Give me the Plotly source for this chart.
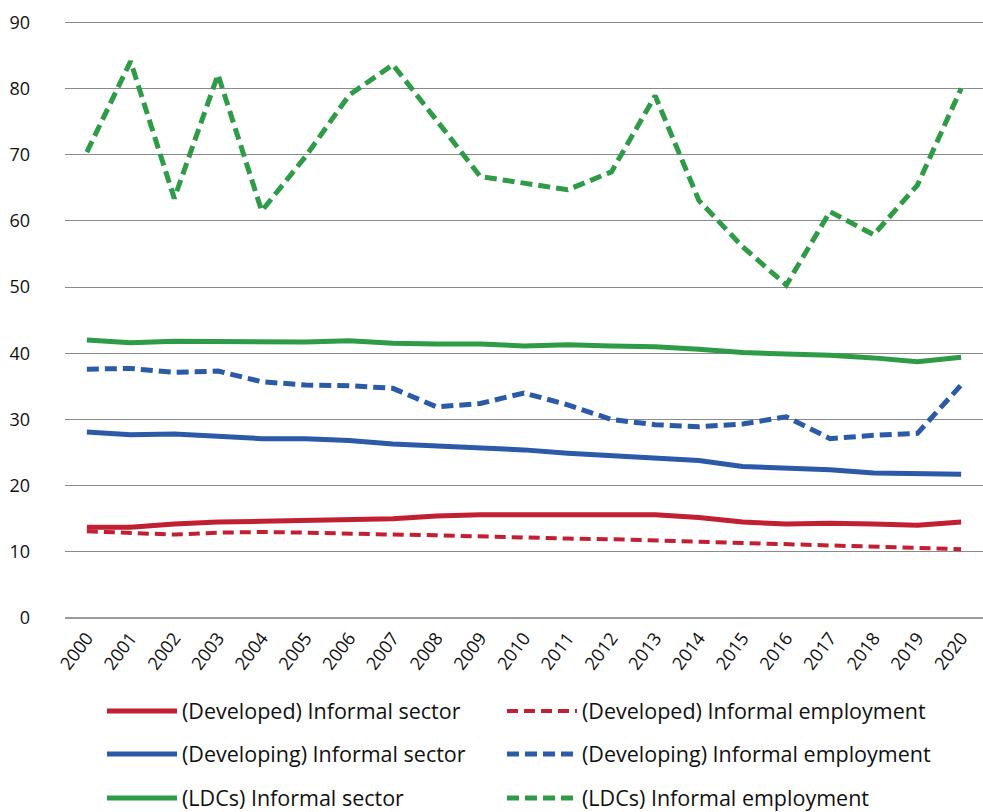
import plotly.graph_objects as go

years = [str(y) for y in range(2000, 2021)]

developed_sector = [13.7, 13.7, 14.2, 14.5, 14.6, 14.7, 14.8, 15.0, 15.4, 15.6, 15.6,
                    15.6, 15.5, 15.6, 15.2, 14.5, 14.2, 14.3, 14.2, 14.0, 14.5]
developed_employment = [13.1, 12.8, 12.6, 12.9, 13.0, 12.9, 12.7, 12.6, 12.5, 12.3, 12.2,
                        12.0, 11.9, 11.7, 11.6, 11.3, 11.1, 10.9, 10.8, 10.5, 10.4]
developing_sector = [28.1, 27.7, 27.8, 27.5, 27.1, 27.1, 26.8, 26.3, 26.0, 25.6, 25.4,
                     24.9, 24.5, 24.1, 23.8, 22.9, 22.6, 22.4, 21.9, 21.8, 21.7]
developing_employment = [37.6, 37.7, 37.1, 37.3, 35.7, 35.2, 35.1, 34.7, 31.9, 32.4, 34.0,
                         32.2, 30.0, 29.2, 28.9, 29.3, 30.4, 27.1, 27.6, 27.9, 35.2]
ldc_sector = [42.0, 41.6, 41.8, 41.8, 41.8, 41.7, 41.9, 41.5, 41.4, 41.4, 41.1,
              41.3, 41.1, 41.0, 40.6, 40.1, 39.9, 39.7, 39.3, 38.7, 39.4]
ldc_employment = [70.4, 84.1, 63.4, 82.1, 61.5, 69.7, 79.0, 83.6, 75.2, 66.7, 65.7,
                  64.7, 67.4, 78.9, 63.1, 56.1, 50.3, 61.4, 57.9, 65.4, 80.0]

names = ["(Developed) Informal sector", "(Developed) Informal employment",
         "(Developing) Informal sector", "(Developing) Informal employment",
         "(LDCs) Informal sector", "(LDCs) Informal employment"]
y_ticks = [0, 10, 20, 30, 40, 50, 60, 70, 80, 90]

RED, BLUE, GREEN = "#C21F32", "#2A5AA8", "#2E9B47"
FONT = "Open Sans"

series = [
    (developed_sector, RED, "solid", 5),
    (developed_employment, RED, "11px,6px", 4),
    (developing_sector, BLUE, "solid", 5),
    (developing_employment, BLUE, "12px,6px", 5),
    (ldc_sector, GREEN, "solid", 5),
    (ldc_employment, GREEN, "12px,6px", 5),
]

fig = go.Figure()
legend_ids = ["legend", "legend2", "legend3", "legend4", "legend5", "legend6"]
for i, (vals, col, dash, w) in enumerate(series):
    fig.add_trace(go.Scatter(
        x=years, y=vals, mode="lines", name=names[i],
        line=dict(color=col, dash=dash, width=w),
        legend=legend_ids[i],
    ))

col_x = [102, 502]
row_y = [711, 754, 798]
W, H = 983, 812
legend_layout = {}
for i, lid in enumerate(legend_ids):
    cx = col_x[i % 2]
    cy = row_y[i // 2]
    legend_layout[lid] = dict(
        xref="container", yref="container",
        x=cx / W, y=1 - cy / H, xanchor="left", yanchor="middle",
        orientation="h", itemwidth=70, bgcolor="rgba(0,0,0,0)",
        font=dict(family=FONT, size=21.5, color="#111"),
    )

fig.update_layout(
    width=W, height=H,
    margin=dict(l=65, r=0, t=19, b=194),
    plot_bgcolor="white", paper_bgcolor="white",
    font=dict(family=FONT, size=18, color="#111"),
    showlegend=True,
    xaxis=dict(
        type="category", range=[-0.5, 20.5], showgrid=False, showline=False,
        zeroline=False, ticks="", tickangle=-53, ticklabelstandoff=5,
        tickfont=dict(family=FONT, size=18, color="#111"),
    ),
    yaxis=dict(
        range=[0, 90.5], tickvals=y_ticks,
        showgrid=True, gridcolor="#8a8a8a", gridwidth=1.2,
        zeroline=True, zerolinecolor="#9a9a9a", zerolinewidth=2,
        showline=False, ticks="", ticklabelstandoff=34,
        tickfont=dict(family=FONT, size=18, color="#111"),
    ),
    **legend_layout,
)

fig.write_html("out.html", config={"displayModeBar": False},
               post_script="document.body.style.margin='0';")
